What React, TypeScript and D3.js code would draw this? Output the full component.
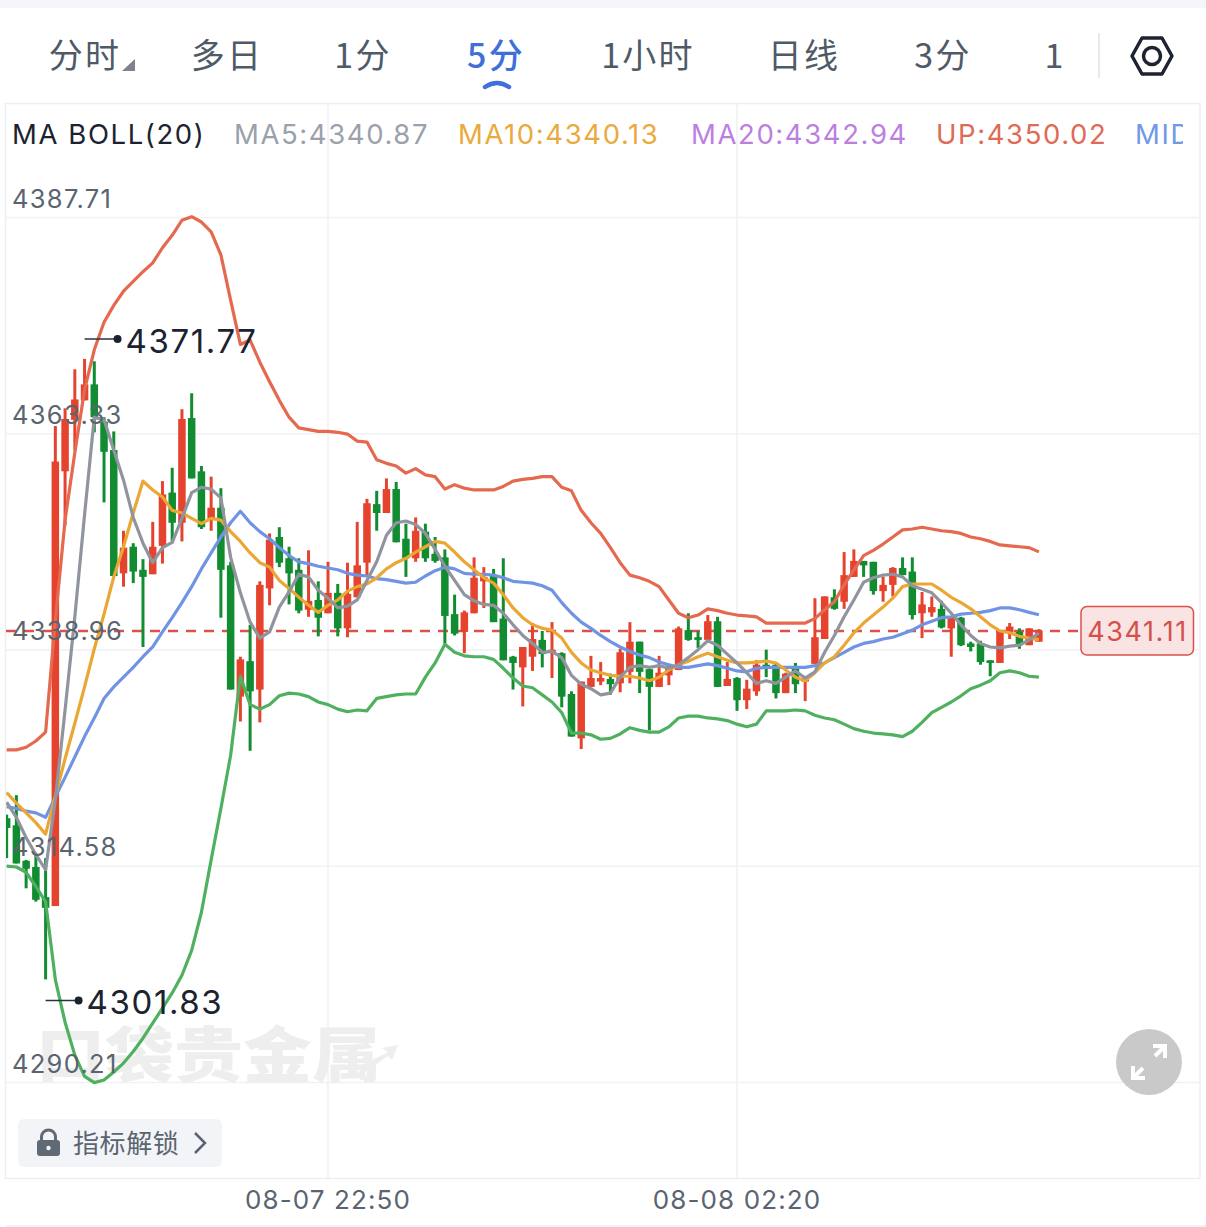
import React, { useEffect, useRef } from 'react';

import * as d3 from 'd3';

const opens = [
  4320.0, 4319.2, 4315.2, 4314.5, 4311.1, 4310.1, 4359.1, 4364.9, 4367.1, 4368.9,
  4364.7, 4361.5, 4347.6, 4350.6, 4348.0, 4347.5, 4350.7, 4356.7, 4353.3, 4365.1,
  4359.1, 4353.6, 4355.0, 4348.5, 4333.7, 4337.7, 4334.5, 4345.9, 4351.7, 4349.3,
  4348.0, 4343.5, 4344.6, 4343.1, 4345.4, 4341.4, 4344.9, 4348.8, 4355.4, 4354.4,
  4357.1, 4351.5, 4349.3, 4352.3, 4349.8, 4349.4, 4343.0, 4341.0, 4343.1, 4346.7,
  4347.4, 4342.5, 4338.2, 4337.0, 4338.2, 4340.1, 4338.7, 4338.6, 4334.0, 4329.0,
  4334.8, 4335.4, 4335.7, 4335.2, 4336.5, 4339.9, 4336.8, 4334.8, 4336.1, 4336.7,
  4341.2, 4340.4, 4340.1, 4342.2, 4334.9, 4335.8, 4333.3, 4334.3, 4337.3, 4337.3,
  4334.1, 4337.1, 4335.4, 4337.4, 4340.2, 4344.9, 4344.4, 4347.2, 4349.0, 4348.9,
  4345.6, 4346.3, 4348.2, 4347.8, 4343.1, 4343.2, 4343.6, 4341.4, 4342.6, 4339.7,
  4339.7, 4337.8, 4337.5, 4340.9, 4341.0, 4339.5, 4339.9,
];
const closes = [
  4318.9, 4314.9, 4314.3, 4310.8, 4309.9, 4360.2, 4365.0, 4367.2, 4368.9, 4365.2,
  4361.3, 4347.3, 4350.5, 4347.8, 4347.2, 4350.6, 4356.5, 4353.3, 4365.0, 4358.3,
  4352.8, 4355.0, 4348.0, 4334.5, 4337.9, 4334.3, 4346.3, 4351.4, 4348.8, 4347.6,
  4343.4, 4344.5, 4342.6, 4345.4, 4341.4, 4345.3, 4348.5, 4355.5, 4354.4, 4357.1,
  4351.1, 4349.3, 4352.4, 4349.3, 4349.0, 4342.8, 4340.8, 4343.2, 4347.1, 4347.2,
  4342.1, 4337.8, 4337.5, 4339.3, 4340.2, 4338.5, 4339.0, 4333.7, 4329.2, 4335.4,
  4335.8, 4335.8, 4335.1, 4338.7, 4339.9, 4336.5, 4334.8, 4336.4, 4337.2, 4341.4,
  4340.1, 4340.1, 4342.2, 4334.8, 4335.7, 4333.3, 4334.6, 4337.3, 4337.1, 4334.1,
  4336.3, 4335.1, 4335.8, 4340.4, 4345.0, 4343.6, 4347.4, 4349.0, 4348.5, 4345.6,
  4346.3, 4348.2, 4347.4, 4342.9, 4344.1, 4343.8, 4341.5, 4342.6, 4339.5, 4339.3,
  4337.6, 4337.5, 4341.0, 4341.6, 4339.5, 4341.4, 4341.11,
];
const highs = [
  4320.4, 4322.6, 4315.3, 4316.1, 4315.5, 4364.2, 4366.2, 4370.6, 4371.77, 4371.5,
  4365.2, 4363.6, 4352.4, 4351.0, 4349.2, 4353.4, 4358.0, 4359.5, 4366.1, 4367.9,
  4359.7, 4358.5, 4357.2, 4348.9, 4338.2, 4341.8, 4346.7, 4352.1, 4352.8, 4350.6,
  4349.3, 4350.2, 4346.7, 4348.9, 4346.4, 4348.8, 4353.4, 4356.0, 4356.9, 4358.3,
  4357.9, 4353.2, 4353.9, 4353.2, 4351.7, 4350.3, 4345.2, 4343.4, 4349.4, 4348.3,
  4348.1, 4349.3, 4338.3, 4339.3, 4342.0, 4341.1, 4342.1, 4338.7, 4334.3, 4335.4,
  4338.3, 4337.6, 4336.3, 4339.1, 4342.1, 4339.9, 4336.8, 4338.3, 4337.2, 4341.6,
  4343.1, 4341.1, 4342.9, 4342.7, 4337.6, 4335.9, 4335.6, 4337.8, 4339.0, 4337.5,
  4336.4, 4337.5, 4335.8, 4344.8, 4345.0, 4345.8, 4350.0, 4350.3, 4349.0, 4348.9,
  4347.2, 4348.3, 4349.4, 4349.4, 4345.5, 4345.0, 4344.5, 4342.7, 4342.7, 4339.9,
  4340.0, 4337.8, 4341.0, 4342.0, 4341.4, 4341.4, 4341.3,
];
const lows = [
  4315.5, 4314.9, 4312.1, 4310.6, 4301.83, 4310.1, 4353.0, 4361.5, 4367.1, 4363.5,
  4355.6, 4347.3, 4346.1, 4346.5, 4339.3, 4347.5, 4348.7, 4351.0, 4351.2, 4358.3,
  4352.6, 4352.4, 4342.6, 4334.5, 4330.9, 4327.6, 4330.8, 4344.0, 4348.3, 4344.1,
  4343.1, 4342.7, 4340.5, 4343.1, 4340.5, 4340.4, 4344.9, 4347.4, 4352.4, 4354.4,
  4351.1, 4347.2, 4348.9, 4348.9, 4348.8, 4339.7, 4340.6, 4338.6, 4343.1, 4343.7,
  4342.1, 4337.8, 4334.5, 4332.6, 4336.6, 4337.0, 4335.8, 4332.5, 4329.2, 4327.8,
  4334.8, 4335.0, 4333.9, 4334.2, 4335.2, 4334.1, 4329.9, 4334.8, 4335.0, 4336.7,
  4340.0, 4339.2, 4340.1, 4334.8, 4334.9, 4332.1, 4332.3, 4333.8, 4335.9, 4333.5,
  4334.1, 4334.1, 4333.2, 4337.4, 4340.2, 4343.5, 4343.6, 4347.2, 4347.2, 4345.2,
  4344.4, 4345.0, 4347.4, 4342.4, 4340.3, 4342.7, 4341.4, 4338.2, 4339.4, 4338.8,
  4337.3, 4336.0, 4337.5, 4340.2, 4339.1, 4339.5, 4339.9,
];

const ma5 = [
  4321.8, 4320.1, 4317.8, 4315.9, 4314.2, 4322.1, 4332.2, 4342.7, 4354.2, 4365.2,
  4364.9, 4361.5, 4358.1, 4353.9, 4351.0, 4348.8, 4350.5, 4351.1, 4353.8, 4356.7,
  4357.3, 4357.1, 4356.1, 4349.4, 4345.4, 4342.1, 4340.3, 4341.0, 4343.8, 4345.5,
  4347.5, 4347.2, 4345.7, 4344.8, 4343.7, 4343.9, 4344.6, 4346.8, 4348.9, 4351.9,
  4353.3, 4353.5, 4353.1, 4352.1, 4350.3, 4348.4, 4346.8, 4345.2, 4344.5, 4344.1,
  4344.0, 4343.1, 4341.8, 4340.6, 4339.7, 4338.7, 4338.8, 4338.1, 4336.1, 4335.1,
  4334.6, 4333.9, 4334.1, 4335.9, 4337.0, 4337.2, 4337.0, 4337.2, 4336.9, 4337.3,
  4338.1, 4339.0, 4340.0, 4339.5, 4338.5, 4337.5, 4336.4, 4335.2, 4335.5, 4335.2,
  4335.9, 4336.6, 4335.8, 4336.5, 4338.7, 4340.6, 4342.7, 4344.6, 4346.6, 4347.1,
  4347.4, 4347.5, 4347.2, 4346.2, 4345.8, 4345.4, 4344.3, 4343.1, 4341.8, 4340.6,
  4339.7, 4339.3, 4339.2, 4339.4, 4339.5, 4340.1, 4340.87,
];
const ma10 = [
  4322.9, 4321.7, 4320.6, 4319.5, 4318.2, 4322.5, 4326.7, 4330.7, 4334.8, 4339.1,
  4343.0, 4347.2, 4350.6, 4354.4, 4358.0, 4357.0, 4356.2, 4354.7, 4354.4, 4353.8,
  4353.2, 4353.8, 4353.6, 4352.3, 4351.2, 4349.9, 4348.8, 4348.3, 4346.8, 4345.9,
  4344.9, 4344.0, 4343.2, 4344.0, 4344.6, 4345.6, 4346.1, 4346.4, 4347.1, 4348.1,
  4348.8, 4349.3, 4350.0, 4350.6, 4351.2, 4351.0, 4350.0, 4348.9, 4348.0, 4347.1,
  4346.5, 4345.2, 4343.7, 4342.6, 4341.8, 4341.4, 4341.2, 4340.3, 4338.7, 4337.5,
  4336.7, 4336.4, 4336.1, 4336.0, 4336.0, 4335.8, 4335.5, 4335.9, 4336.7, 4337.3,
  4337.7, 4338.2, 4338.6, 4338.2, 4337.8, 4337.5, 4337.5, 4337.6, 4337.7, 4337.5,
  4336.7, 4335.9, 4335.5, 4336.4, 4337.5, 4338.2, 4339.5, 4340.9, 4342.0, 4342.9,
  4343.8, 4344.8, 4346.1, 4346.4, 4346.4, 4346.4, 4345.7, 4344.9, 4344.3, 4343.6,
  4342.7, 4341.8, 4341.1, 4340.9, 4340.5, 4340.3, 4340.13,
];
const bollUp = [
  4327.7, 4327.7, 4328.0, 4328.7, 4329.7, 4342.3, 4353.6, 4361.2, 4368.3, 4372.8,
  4375.9, 4377.8, 4379.4, 4380.5, 4381.6, 4382.6, 4384.3, 4385.7, 4387.4, 4387.8,
  4387.2, 4386.1, 4383.5, 4378.4, 4373.4, 4373.9, 4371.4, 4369.2, 4367.1, 4365.2,
  4364.0, 4363.8, 4363.6, 4363.6, 4363.5, 4363.3, 4362.5, 4362.4, 4360.4, 4360.0,
  4359.7, 4358.9, 4359.4, 4358.7, 4358.5, 4357.1, 4357.6, 4357.2, 4357.0, 4357.0,
  4357.0, 4357.4, 4358.0, 4358.2, 4358.3, 4358.5, 4358.5, 4357.3, 4356.9, 4354.7,
  4353.3, 4352.1, 4350.5, 4348.8, 4347.4, 4347.1, 4346.7, 4346.1, 4344.6, 4343.1,
  4342.6, 4342.9, 4343.6, 4343.4, 4343.1, 4342.9, 4342.8, 4342.7, 4342.0, 4342.0,
  4342.0, 4342.0, 4342.0, 4342.5, 4343.5, 4344.4, 4346.3, 4348.0, 4349.6, 4350.2,
  4350.9, 4351.7, 4352.5, 4352.6, 4352.8, 4352.6, 4352.4, 4352.3, 4352.1, 4351.7,
  4351.5, 4351.2, 4350.8, 4350.7, 4350.6, 4350.5, 4350.02,
];
const bollMid = [
  4321.3, 4321.1, 4320.8, 4320.6, 4320.1, 4322.4, 4324.6, 4326.9, 4329.2, 4331.3,
  4333.5, 4334.8, 4335.9, 4337.0, 4338.2, 4339.3, 4341.0, 4342.6, 4344.3, 4346.1,
  4348.1, 4349.9, 4351.7, 4353.3, 4354.6, 4353.3, 4352.3, 4351.5, 4350.5, 4349.6,
  4348.9, 4348.7, 4348.4, 4348.2, 4348.0, 4347.6, 4347.4, 4347.3, 4347.0, 4346.9,
  4346.7, 4346.5, 4346.6, 4347.3, 4347.9, 4348.3, 4348.1, 4347.6, 4347.5, 4347.5,
  4347.4, 4347.1, 4346.7, 4346.6, 4346.5, 4346.2, 4345.7, 4344.3, 4343.1, 4342.1,
  4341.4, 4340.6, 4339.9, 4339.3, 4338.8, 4338.4, 4338.1, 4337.6, 4337.3, 4337.0,
  4337.0, 4337.2, 4337.4, 4337.2, 4336.9, 4336.6, 4336.5, 4336.9, 4337.0, 4337.0,
  4337.0, 4337.0, 4337.0, 4337.2, 4337.5, 4338.1, 4338.7, 4339.3, 4339.7, 4339.9,
  4340.2, 4340.4, 4340.8, 4341.2, 4341.8, 4342.2, 4342.6, 4342.7, 4343.0, 4343.1,
  4343.2, 4343.4, 4343.7, 4343.7, 4343.5, 4343.2, 4342.94,
];
const bollLow = [
  4314.6, 4314.5, 4313.9, 4312.3, 4310.6, 4301.8, 4297.0, 4293.3, 4290.9, 4290.2,
  4290.5, 4291.4, 4292.4, 4293.7, 4295.2, 4296.9, 4298.6, 4300.3, 4302.3, 4305.1,
  4309.4, 4315.3, 4321.1, 4327.1, 4336.0, 4332.8, 4332.3, 4332.8, 4333.8, 4334.1,
  4334.0, 4333.7, 4333.1, 4332.8, 4332.3, 4332.0, 4332.2, 4332.1, 4333.5, 4333.7,
  4333.9, 4334.0, 4334.0, 4335.9, 4337.5, 4339.6, 4338.7, 4338.3, 4338.2, 4338.2,
  4337.9, 4336.9, 4335.8, 4334.9, 4334.7, 4333.9, 4333.1, 4331.9, 4329.6, 4329.6,
  4329.4, 4328.9, 4329.0, 4329.5, 4330.2, 4329.9, 4329.7, 4329.7, 4330.3, 4331.3,
  4331.5, 4331.5, 4331.3, 4331.2, 4331.0, 4330.6, 4330.3, 4330.6, 4332.1, 4332.1,
  4332.1, 4332.2, 4332.1, 4331.6, 4331.3, 4331.1, 4330.6, 4330.1, 4329.8, 4329.6,
  4329.5, 4329.4, 4329.2, 4329.8, 4330.8, 4331.9, 4332.5, 4333.1, 4333.8, 4334.6,
  4335.0, 4335.5, 4336.4, 4336.6, 4336.4, 4336.0, 4335.9,
];

const priceTicks = [4387.71, 4363.33, 4338.96, 4314.58, 4290.21];
const timeTickIndex = [33, 75];
const timeTickLabels = ['08-07 22:50', '08-08 02:20'];
const lastPrice = 4341.11;
const tabLabels = ['分时', '多日', '1分', '5分', '1小时', '日线', '3分', '1'];
const tabCenters = [85, 227, 363, 496, 648, 804, 943, 1055];
const legendLabels = ['MA5:4340.87', 'MA10:4340.13', 'MA20:4342.94', 'UP:4350.02', 'MID'];
const legendColors = ['#9aa1ab', '#e9aa3e', '#bc7fdf', '#df6a55', '#7099e6'];
const legendLefts = [234, 458, 691, 936, 1135];

const RED = '#e5432d';
const GREEN = '#118c30';
const GRID = '#f0f1f4';
const SANS = 'Inter, "Noto Sans CJK SC", sans-serif';

const App = (): React.ReactElement => {
  const svgRef = useRef<SVGSVGElement>(null);

  useEffect(() => {
    if (!svgRef.current) {
      return;
    }
    const svg = d3.select(svgRef.current);
    svg.selectAll('*').remove();

    const bars = d3.range(opens.length);
    const x = d3.scalePoint<number>().domain(bars).range([6.65, 1038.9]);
    const y = d3.scaleLinear().domain([4290.21, 4387.71]).range([1082.5, 217.5]);
    const px = (i: number) => x(i) as number;

    const defs = svg.append('defs');
    defs.append('clipPath').attr('id', 'plot').append('rect').attr('x', 6).attr('y', 104).attr('width', 1194).attr('height', 1074);
    defs.append('clipPath').attr('id', 'legend').append('rect').attr('x', 6).attr('y', 104).attr('width', 1177).attr('height', 60);

    // page chrome
    svg.append('rect').attr('width', 1206).attr('height', 8).attr('fill', '#f5f6fa');
    svg.append('rect').attr('x', 5.5).attr('y', 103.5).attr('width', 1194.5).attr('height', 1075).attr('fill', 'none').attr('stroke', '#eceef1').attr('stroke-width', 1.5);
    svg.append('line').attr('x1', 6).attr('x2', 1206).attr('y1', 1226).attr('y2', 1226).attr('stroke', '#eceef1').attr('stroke-width', 1.5);

    svg
      .append('g')
      .selectAll('text')
      .data(tabLabels)
      .join('text')
      .attr('x', (_, i) => tabCenters[i])
      .attr('y', 68)
      .attr('text-anchor', 'middle')
      .attr('font-family', '"Noto Sans CJK SC", sans-serif')
      .attr('font-size', 34)
      .attr('letter-spacing', 2.2)
      .attr('fill', (_, i) => (i === 3 ? '#3f70d9' : '#4f5a67'))
      .attr('font-weight', (_, i) => (i === 3 ? 500 : 400))
      .text((d) => d);
    svg.append('path').attr('d', 'M122,71 L135,71 L135,59 Z').attr('fill', '#7d828c');
    svg.append('path').attr('d', 'M485,87 Q497,79 509,87').attr('fill', 'none').attr('stroke', '#3f70d9').attr('stroke-width', 4.5).attr('stroke-linecap', 'round');
    svg.append('line').attr('x1', 1099).attr('x2', 1099).attr('y1', 33).attr('y2', 78).attr('stroke', '#e8e9ec').attr('stroke-width', 2);
    svg.append('path').attr('d', 'M1132,56 L1142,38 L1162,38 L1172,56 L1162,74 L1142,74 Z').attr('fill', 'none').attr('stroke', '#1c2433').attr('stroke-width', 3.5).attr('stroke-linejoin', 'round');
    svg.append('circle').attr('cx', 1152).attr('cy', 56).attr('r', 8.5).attr('fill', 'none').attr('stroke', '#1c2433').attr('stroke-width', 3.5);

    // grid
    svg
      .append('g')
      .selectAll('line')
      .data(priceTicks)
      .join('line')
      .attr('x1', 6)
      .attr('x2', 1200)
      .attr('y1', (d) => y(d))
      .attr('y2', (d) => y(d))
      .attr('stroke', GRID)
      .attr('stroke-width', 1.5);
    svg
      .append('g')
      .selectAll('line')
      .data(timeTickIndex)
      .join('line')
      .attr('x1', (d) => px(d))
      .attr('x2', (d) => px(d))
      .attr('y1', 104)
      .attr('y2', 1178)
      .attr('stroke', GRID)
      .attr('stroke-width', 1.5);

    // watermark
    svg
      .append('text')
      .attr('x', 36)
      .attr('y', 1077)
      .attr('font-family', '"Noto Sans CJK SC", sans-serif')
      .attr('font-weight', 900)
      .attr('font-size', 60)
      .attr('textLength', 345)
      .attr('lengthAdjust', 'spacingAndGlyphs')
      .attr('fill', '#eeeeee')
      .text('口袋贵金属');
    svg.append('path').attr('d', 'M360,1066 L388,1052 L382,1048 L398,1045 L392,1060 L388,1056 L362,1074 Z').attr('fill', '#eeeeee');

    const plot = svg.append('g').attr('clip-path', 'url(#plot)');

    plot
      .append('line')
      .attr('x1', 6)
      .attr('x2', 1080)
      .attr('y1', y(lastPrice))
      .attr('y2', y(lastPrice))
      .attr('stroke', '#d9524c')
      .attr('stroke-width', 2.5)
      .attr('stroke-dasharray', '10 8');

    const isUp = (i: number) => closes[i] >= opens[i];
    plot
      .append('g')
      .selectAll('line')
      .data(bars)
      .join('line')
      .attr('x1', (i) => px(i))
      .attr('x2', (i) => px(i))
      .attr('y1', (i) => y(highs[i]))
      .attr('y2', (i) => y(lows[i]))
      .attr('stroke', (i) => (isUp(i) ? RED : GREEN))
      .attr('stroke-width', 3);
    plot
      .append('g')
      .selectAll('rect')
      .data(bars)
      .join('rect')
      .attr('x', (i) => px(i) - 3.75)
      .attr('width', 7.5)
      .attr('y', (i) => y(Math.max(opens[i], closes[i])))
      .attr('height', (i) => Math.max(1.5, Math.abs(y(opens[i]) - y(closes[i]))))
      .attr('fill', (i) => (isUp(i) ? RED : GREEN));

    const line = d3
      .line<number>()
      .x((_, i) => px(i))
      .y((d) => y(d));
    const series: [number[], string][] = [
      [bollUp, '#e4694f'],
      [bollLow, '#4fb060'],
      [bollMid, '#7094e3'],
      [ma10, '#eaa733'],
      [ma5, '#8f949e'],
    ];
    series.forEach(([values, color]) => {
      plot
        .append('path')
        .attr('d', line(values))
        .attr('fill', 'none')
        .attr('stroke', color)
        .attr('stroke-width', 3.2)
        .attr('stroke-linejoin', 'round');
    });

    // price labels sit on top of the candles
    svg
      .append('g')
      .selectAll('text')
      .data(priceTicks)
      .join('text')
      .attr('x', 12)
      .attr('y', (d) => y(d) - 10)
      .attr('font-family', SANS)
      .attr('font-size', 25.5)
      .attr('letter-spacing', 1.3)
      .attr('fill', '#5a6470')
      .text((d) => d.toFixed(2));

    // legend
    const legend = svg.append('g').attr('clip-path', 'url(#legend)').attr('font-family', SANS).attr('font-size', 27.5).attr('letter-spacing', 1.6);
    legend.append('text').attr('x', 12).attr('y', 144).attr('fill', '#1b2230').text('MA BOLL(20)');
    legend
      .selectAll('text.value')
      .data(legendLabels)
      .join('text')
      .attr('class', 'value')
      .attr('x', (_, i) => legendLefts[i])
      .attr('y', 144)
      .attr('fill', (_, i) => legendColors[i])
      .text((d) => d);

    // time labels
    svg
      .append('g')
      .selectAll('text')
      .data(timeTickIndex)
      .join('text')
      .attr('x', (d) => px(d))
      .attr('y', 1209)
      .attr('text-anchor', 'middle')
      .attr('font-family', SANS)
      .attr('font-size', 26)
      .attr('letter-spacing', 1.1)
      .attr('fill', '#5a6470')
      .text((_, i) => timeTickLabels[i]);

    // high and low markers
    const extremes: [number, number, number][] = [
      [8, d3.max(highs) as number, -20],
      [4, d3.min(lows) as number, 21],
    ];
    extremes.forEach(([bar, value, offset]) => {
      const left = px(bar);
      const top = y(value) + offset;
      svg.append('line').attr('x1', left).attr('x2', left + 33).attr('y1', top).attr('y2', top).attr('stroke', '#2a3240').attr('stroke-width', 1.5);
      svg.append('circle').attr('cx', left + 33).attr('cy', top).attr('r', 4).attr('fill', '#1b2230');
      svg
        .append('text')
        .attr('x', left + 41)
        .attr('y', top + 14)
        .attr('font-family', SANS)
        .attr('font-size', 33)
        .attr('letter-spacing', 1.6)
        .attr('fill', '#1b2230')
        .text(value.toFixed(2));
    });

    // last price tag
    svg.append('rect').attr('x', 1081).attr('y', 606.5).attr('width', 112.5).attr('height', 48.5).attr('rx', 6).attr('fill', '#fae3e3').attr('stroke', '#d9524c').attr('stroke-width', 1.5);
    svg
      .append('text')
      .attr('x', 1137.5)
      .attr('y', 641)
      .attr('text-anchor', 'middle')
      .attr('font-family', SANS)
      .attr('font-size', 27)
      .attr('letter-spacing', 1.6)
      .attr('fill', '#d4514b')
      .text(lastPrice.toFixed(2));

    // indicator unlock button
    svg.append('rect').attr('x', 18).attr('y', 1119).attr('width', 204).attr('height', 48).attr('rx', 6).attr('fill', '#f2f4f7');
    svg.append('rect').attr('x', 37).attr('y', 1140).attr('width', 23).attr('height', 16).attr('rx', 3).attr('fill', '#5f6a76');
    svg.append('path').attr('d', 'M41.5,1141 V1137 a7,7 0 0 1 14,0 V1141').attr('fill', 'none').attr('stroke', '#5f6a76').attr('stroke-width', 3);
    svg.append('circle').attr('cx', 48.5).attr('cy', 1148).attr('r', 2.2).attr('fill', '#f2f4f7');
    svg
      .append('text')
      .attr('x', 73)
      .attr('y', 1153)
      .attr('font-family', '"Noto Sans CJK SC", sans-serif')
      .attr('font-size', 26)
      .attr('letter-spacing', 0.6)
      .attr('fill', '#5a6470')
      .text('指标解锁');
    svg.append('path').attr('d', 'M195,1133 L205,1143 L195,1153').attr('fill', 'none').attr('stroke', '#5a6470').attr('stroke-width', 2.5);

    // fullscreen button
    svg.append('circle').attr('cx', 1149).attr('cy', 1062).attr('r', 33).attr('fill', '#c9c9c9');
    svg
      .append('path')
      .attr('d', 'M1155,1056 L1165,1046 M1153,1046 H1165 V1058 M1143,1068 L1133,1078 M1133,1066 V1078 H1145')
      .attr('fill', 'none')
      .attr('stroke', '#fff')
      .attr('stroke-width', 4);
  }, []);

  return <svg ref={svgRef} width={1206} height={1227} style={{ position: 'absolute', left: 0, top: 0, background: '#fff' }} />;
};

export default App;
